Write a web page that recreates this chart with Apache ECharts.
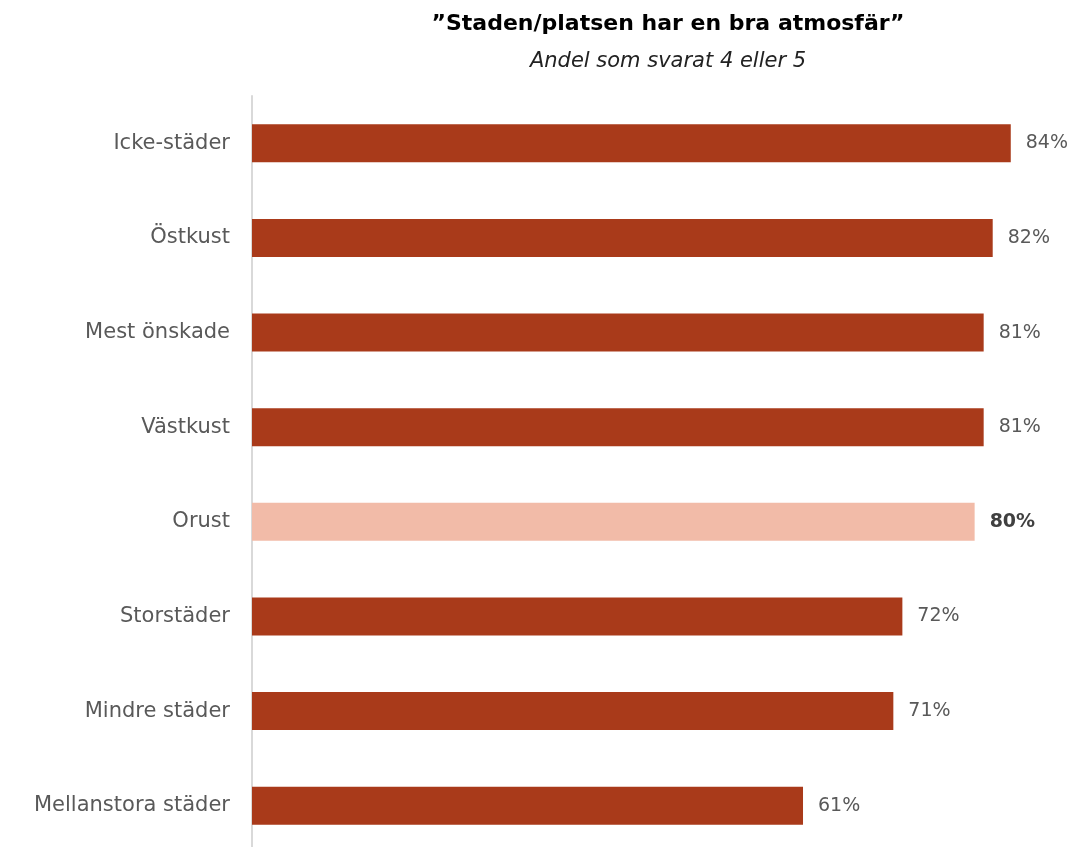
<!DOCTYPE html>
<html>
<head>
<meta charset="utf-8">
<script src="https://cdn.jsdelivr.net/npm/echarts@6/dist/echarts.min.js"></script>
<style>html,body{margin:0;padding:0;background:#fff;overflow:hidden;}#c{width:1077px;height:860px;}</style>
</head>
<body>
<div id="c"></div>
<script>
const categories = ['Icke-städer','Östkust','Mest önskade','Västkust','Orust','Storstäder','Mindre städer','Mellanstora städer'];
const values = [84, 82, 81, 81, 80, 72, 71, 61];
const highlight = 'Orust';
const titleText = '”Staden/platsen har en bra atmosfär”';
const subtitleText = 'Andel som svarat 4 eller 5';

const FONT = '"DejaVu Sans", sans-serif';
const chart = echarts.init(document.getElementById('c'));
const data = values.map((v, i) => {
  const hl = categories[i] === highlight;
  return {
    value: v,
    itemStyle: { color: hl ? '#F2BBA8' : '#A93A1A' },
    label: hl ? { fontWeight: 'bold', color: '#404040' } : {}
  };
});
chart.setOption({
  animation: false,
  backgroundColor: '#fff',
  title: {
    text: titleText,
    subtext: subtitleText,
    left: 663,
    textAlign: 'center',
    top: 8,
    itemGap: 16,
    textStyle: { fontFamily: FONT, fontSize: 22, fontWeight: 'bold', color: '#000' },
    subtextStyle: { fontFamily: FONT, fontSize: 21, fontStyle: 'italic', color: '#222' }
  },
  grid: { left: 252, right: 3, top: 96, height: 757, containLabel: false },
  xAxis: {
    type: 'value', min: 0, max: 91,
    show: false
  },
  yAxis: {
    type: 'category',
    data: categories,
    inverse: true,
    axisLine: { show: true, lineStyle: { color: '#D9D9D9', width: 2 } },
    axisTick: { show: false },
    axisLabel: { fontFamily: FONT, fontSize: 21, color: '#595959', margin: 22 }
  },
  series: [{
    type: 'bar',
    data: data,
    barWidth: 38,
    label: {
      show: true, position: 'right', distance: 15,
      formatter: '{c}%',
      fontFamily: FONT, fontSize: 19, color: '#595959'
    }
  }]
});
</script>
</body>
</html>
